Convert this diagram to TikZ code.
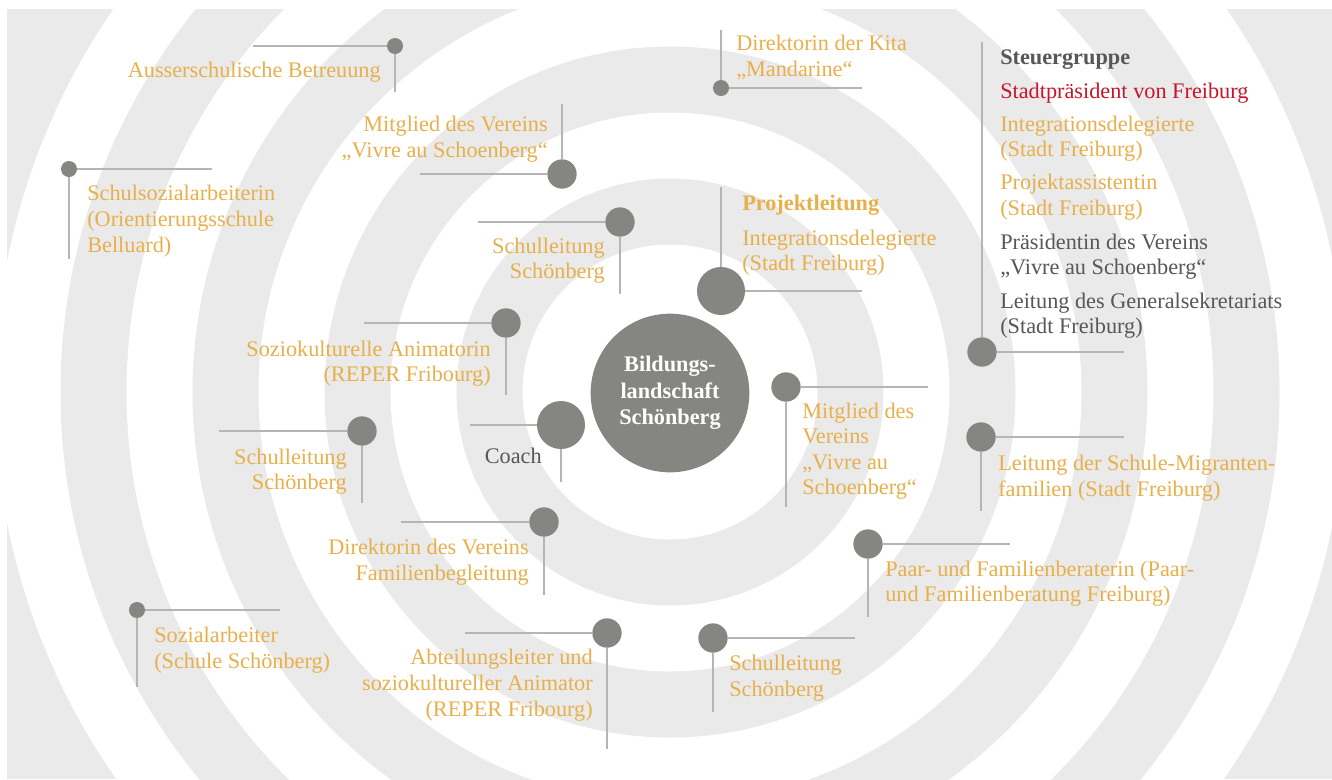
\documentclass[tikz,border=0pt]{standalone}
\usepackage{fontspec}
\setmainfont{Liberation Serif}
\usepackage{xcolor}
\definecolor{ringgray}{HTML}{E9EAE9}
\definecolor{dotgray}{HTML}{858681}
\definecolor{linegray}{HTML}{B4B5B4}
\definecolor{gold}{HTML}{E8B04C}
\definecolor{signalred}{HTML}{C8152B}
\definecolor{textdark}{HTML}{56575A}

\begin{document}
\begin{tikzpicture}[x=0.75pt, y=-0.75pt,
    pindot/.style={circle, fill=dotgray, inner sep=0pt, minimum size=#1},
    pindot/.default=22pt,
    stem/.style={linegray, line width=1.4pt},
    lbl/.style={text=gold, inner sep=0pt, yshift=-1.6pt, font=\fontsize{16.7}{19.2}\selectfont},
    lblb/.style={lbl, font=\bfseries\fontsize{16.7}{19.2}\selectfont},
    lblr/.style={lbl, anchor=east, align=right},
    lbll/.style={lbl, anchor=west, align=left}]

    \useasboundingbox (0,0) rectangle (1332,779);

    % Rings
    \begin{scope}
        \clip (7,9) rectangle (1332,779);
        \fill[ringgray] (7,9) rectangle (1332,779);
        \foreach \r/\c in {675.5/white, 609.5/ringgray, 543.5/white, 477.5/ringgray,
                           411.5/white, 345.5/ringgray, 279.5/white, 213.5/ringgray, 147.5/white}
            \fill[\c] (670,392) circle[radius=\r];
    \end{scope}

    % Centre
    \node[circle, fill=dotgray, minimum size=119pt, text=white, align=center,
          font=\bfseries\fontsize{16.7}{19.9}\selectfont] (core) at (670,393)
          {Bildungs-\\landschaft\\Schönberg};

    % Pins
    \node[pindot=12pt] (ausser) at (395,46) {};
    \node[pindot=12pt] (kita) at (721,88) {};
    \node[pindot] (vereinA) at (562,174) {};
    \node[pindot=12pt] (schulsoz) at (69,169) {};
    \node[pindot] (schulA) at (620,222) {};
    \node[pindot=36pt] (projekt) at (721,291) {};
    \node[pindot] (steuer) at (982,352) {};
    \node[pindot] (animatorin) at (506,323) {};
    \node[pindot=36pt] (coach) at (561,425) {};
    \node[pindot] (vereinB) at (786,387) {};
    \node[pindot] (migranten) at (981,437) {};
    \node[pindot] (schulB) at (362,431) {};
    \node[pindot] (familie) at (544,522) {};
    \node[pindot] (paar) at (868,544) {};
    \node[pindot=12pt] (sozial) at (137,610) {};
    \node[pindot] (abteilung) at (607,633) {};
    \node[pindot] (schulC) at (713,638) {};

    % Line ends
    \coordinate (ausserH) at (253,46);       \coordinate (ausserV) at (395,92);
    \coordinate (kitaH) at (862,88);         \coordinate (kitaV) at (721,30);
    \coordinate (vereinAH) at (420,174);     \coordinate (vereinAV) at (562,104);
    \coordinate (schulsozH) at (212,169);    \coordinate (schulsozV) at (69,259);
    \coordinate (schulAH) at (478,222);      \coordinate (schulAV) at (620,294);
    \coordinate (projektH) at (862,291);     \coordinate (projektV) at (721,187);
    \coordinate (steuerH) at (1124,352);     \coordinate (steuerV) at (982,42);
    \coordinate (animatorinH) at (364,323);  \coordinate (animatorinV) at (506,395);
    \coordinate (coachH) at (470,425);       \coordinate (coachV) at (561,482);
    \coordinate (vereinBH) at (928,387);     \coordinate (vereinBV) at (786,507);
    \coordinate (migrantenH) at (1124,437);  \coordinate (migrantenV) at (981,511);
    \coordinate (schulBH) at (219,431);      \coordinate (schulBV) at (362,503);
    \coordinate (familieH) at (401,522);     \coordinate (familieV) at (544,595);
    \coordinate (paarH) at (1010,544);       \coordinate (paarV) at (868,617);
    \coordinate (sozialH) at (280,610);      \coordinate (sozialV) at (137,687);
    \coordinate (abteilungH) at (465,633);   \coordinate (abteilungV) at (607,749);
    \coordinate (schulCH) at (855,638);      \coordinate (schulCV) at (713,712);

    % Lines
    \draw[stem] (ausser) -- (ausserH);          \draw[stem] (ausser) -- (ausserV);
    \draw[stem] (kita) -- (kitaH);              \draw[stem] (kita) -- (kitaV);
    \draw[stem] (vereinA) -- (vereinAH);        \draw[stem] (vereinA) -- (vereinAV);
    \draw[stem] (schulsoz) -- (schulsozH);      \draw[stem] (schulsoz) -- (schulsozV);
    \draw[stem] (schulA) -- (schulAH);          \draw[stem] (schulA) -- (schulAV);
    \draw[stem] (projekt) -- (projektH);        \draw[stem] (projekt) -- (projektV);
    \draw[stem] (steuer) -- (steuerH);          \draw[stem] (steuer) -- (steuerV);
    \draw[stem] (animatorin) -- (animatorinH);  \draw[stem] (animatorin) -- (animatorinV);
    \draw[stem] (coach) -- (coachH);            \draw[stem] (coach) -- (coachV);
    \draw[stem] (vereinB) -- (vereinBH);        \draw[stem] (vereinB) -- (vereinBV);
    \draw[stem] (migranten) -- (migrantenH);    \draw[stem] (migranten) -- (migrantenV);
    \draw[stem] (schulB) -- (schulBH);          \draw[stem] (schulB) -- (schulBV);
    \draw[stem] (familie) -- (familieH);        \draw[stem] (familie) -- (familieV);
    \draw[stem] (paar) -- (paarH);              \draw[stem] (paar) -- (paarV);
    \draw[stem] (sozial) -- (sozialH);          \draw[stem] (sozial) -- (sozialV);
    \draw[stem] (abteilung) -- (abteilungH);    \draw[stem] (abteilung) -- (abteilungV);
    \draw[stem] (schulC) -- (schulCH);          \draw[stem] (schulC) -- (schulCV);

    % Labels
    \node[lblr] (ausserT) at (381,70) {Ausserschulische Betreuung};
    \node[lbll] (kitaT) at (736,55.5) {Direktorin der Kita\\„Mandarine“};
    \node[lblr] (vereinAT) at (548,137) {Mitglied des Vereins\\„Vivre au Schoenberg“};
    \node[lbll] (schulsozT) at (87,219) {Schulsozialarbeiterin\\(Orientierungsschule\\Belluard)};
    \node[lblr] (schulAT) at (605,258.5) {Schulleitung\\Schönberg};
    \node[lblb, anchor=west] (projektK) at (742,203) {Projektleitung};
    \node[lbll] (projektT) at (742,250.5) {Integrationsdelegierte\\(Stadt Freiburg)};
    \node[lblr] (animatorinT) at (491,361.5) {Soziokulturelle Animatorin\\(REPER Fribourg)};
    \node[lblr, text=textdark] (coachT) at (542,454) {Coach};
    \node[lbll] (vereinBT) at (802,449) {Mitglied des\\Vereins\\„Vivre au\\Schoenberg“};
    \node[lbll] (migrantenT) at (998,476) {Leitung der Schule-Migranten-\\familien (Stadt Freiburg)};
    \node[lblr] (schulBT) at (347,469.5) {Schulleitung\\Schönberg};
    \node[lblr] (familieT) at (529,560) {Direktorin des Vereins\\Familienbegleitung};
    \node[lbll] (paarT) at (885,581.5) {Paar- und Familienberaterin (Paar-\\und Familienberatung Freiburg)};
    \node[lbll] (sozialT) at (154,648) {Sozialarbeiter\\(Schule Schönberg)};
    \node[lblr] (abteilungT) at (593,683) {Abteilungsleiter und\\soziokultureller Animator\\(REPER Fribourg)};
    \node[lbll] (schulCT) at (729,676) {Schulleitung\\Schönberg};

    % Steering group
    \node[lblb, anchor=west, text=textdark] (steuerK) at (1000,57) {Steuergruppe};
    \node[lbll, text=signalred] (steuerT1) at (1000,91) {Stadtpräsident von Freiburg};
    \node[lbll] (steuerT2) at (1000,136.5) {Integrationsdelegierte\\(Stadt Freiburg)};
    \node[lbll] (steuerT3) at (1000,195) {Projektassistentin\\(Stadt Freiburg)};
    \node[lbll, text=textdark] (steuerT4) at (1000,254.5) {Präsidentin des Vereins\\„Vivre au Schoenberg“};
    \node[lbll, text=textdark] (steuerT5) at (1000,313.5) {Leitung des Generalsekretariats\\(Stadt Freiburg)};

\end{tikzpicture}
\end{document}
